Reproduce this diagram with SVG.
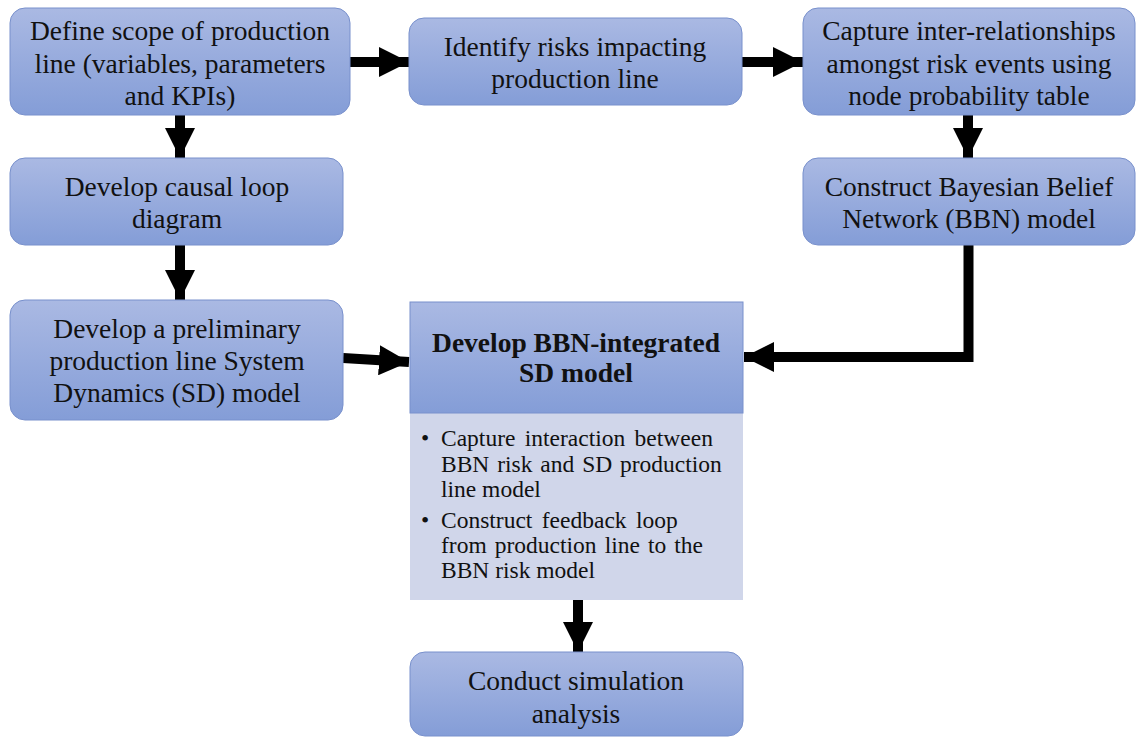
<svg xmlns="http://www.w3.org/2000/svg" width="1139" height="738" viewBox="0 0 1139 738">
<defs>
<linearGradient id="g" x1="0" y1="0" x2="0" y2="1">
<stop offset="0" stop-color="#aab9e3"/>
<stop offset="1" stop-color="#849dd7"/>
</linearGradient>
<marker id="ah" markerWidth="3" markerHeight="3" refX="3" refY="1.5" orient="auto" markerUnits="strokeWidth">
<path d="M0,0 L3,1.5 L0,3 Z" fill="#000"/>
</marker>
<style>
.box{fill:url(#g);stroke:#7890cc;stroke-width:1}
.t{font-family:"Liberation Serif","Times New Roman",serif;font-size:27.5px;fill:#111;text-anchor:middle}
.b{font-weight:bold}
.s{font-family:"Liberation Serif","Times New Roman",serif;font-size:23.5px;fill:#111}
.c{fill:none;stroke:#000;stroke-width:10;marker-end:url(#ah)}
</style>
</defs>
<rect width="1139" height="738" fill="#fff"/>
<g id="connectors">
<line class="c" x1="350" y1="62" x2="409" y2="62"/>
<line class="c" x1="742" y1="62" x2="803" y2="62"/>
<line class="c" x1="180" y1="115" x2="180" y2="158"/>
<line class="c" x1="968" y1="115" x2="968" y2="158"/>
<line class="c" x1="180" y1="245" x2="180" y2="300"/>
<line class="c" x1="343" y1="358" x2="409" y2="362"/>
<polyline class="c" points="968.5,245 968.5,357 744,357"/>
<line class="c" x1="578" y1="600" x2="578" y2="652"/>
</g>
<g id="n1">
<rect class="box" x="10" y="8" width="340" height="107" rx="15"/>
<text class="t" x="180" y="40">Define scope of production</text>
<text class="t" x="180" y="73">line (variables, parameters</text>
<text class="t" x="180" y="105">and KPIs)</text>
</g>
<g id="n2">
<rect class="box" x="409" y="18" width="333" height="87" rx="15"/>
<text class="t" x="575" y="56">Identify risks impacting</text>
<text class="t" x="575" y="88">production line</text>
</g>
<g id="n3">
<rect class="box" x="803" y="8" width="332" height="107" rx="15"/>
<text class="t" x="969" y="40">Capture inter-relationships</text>
<text class="t" x="969" y="73">amongst risk events using</text>
<text class="t" x="969" y="105">node probability table</text>
</g>
<g id="n4">
<rect class="box" x="10" y="158" width="333" height="87" rx="15"/>
<text class="t" x="177" y="196">Develop causal loop</text>
<text class="t" x="177" y="228">diagram</text>
</g>
<g id="n5">
<rect class="box" x="803" y="158" width="332" height="87" rx="15"/>
<text class="t" x="969" y="196">Construct Bayesian Belief</text>
<text class="t" x="969" y="228">Network (BBN) model</text>
</g>
<g id="n6">
<rect class="box" x="10" y="300" width="333" height="120" rx="15"/>
<text class="t" x="177" y="338">Develop a preliminary</text>
<text class="t" x="177" y="370">production line System</text>
<text class="t" x="177" y="402">Dynamics (SD) model</text>
</g>
<g id="n7">
<rect x="410" y="413" width="333" height="187" fill="#d0d6ea"/>
<rect class="box" x="410" y="302" width="333" height="111"/>
<text class="t b" x="576" y="352">Develop BBN-integrated</text>
<text class="t b" x="576" y="382">SD model</text>
<text class="s" x="421" y="446">•</text>
<text class="s" x="441" y="446" word-spacing="3.5">Capture interaction between</text>
<text class="s" x="441" y="472" word-spacing="2">BBN risk and SD production</text>
<text class="s" x="441" y="497">line model</text>
<text class="s" x="421" y="528">•</text>
<text class="s" x="441" y="528" word-spacing="3.5">Construct feedback loop</text>
<text class="s" x="441" y="553" word-spacing="2.2">from production line to the</text>
<text class="s" x="441" y="578">BBN risk model</text>
</g>
<g id="n8">
<rect class="box" x="410" y="652" width="333" height="84" rx="15"/>
<text class="t" x="576" y="690">Conduct simulation</text>
<text class="t" x="576" y="723">analysis</text>
</g>
</svg>
